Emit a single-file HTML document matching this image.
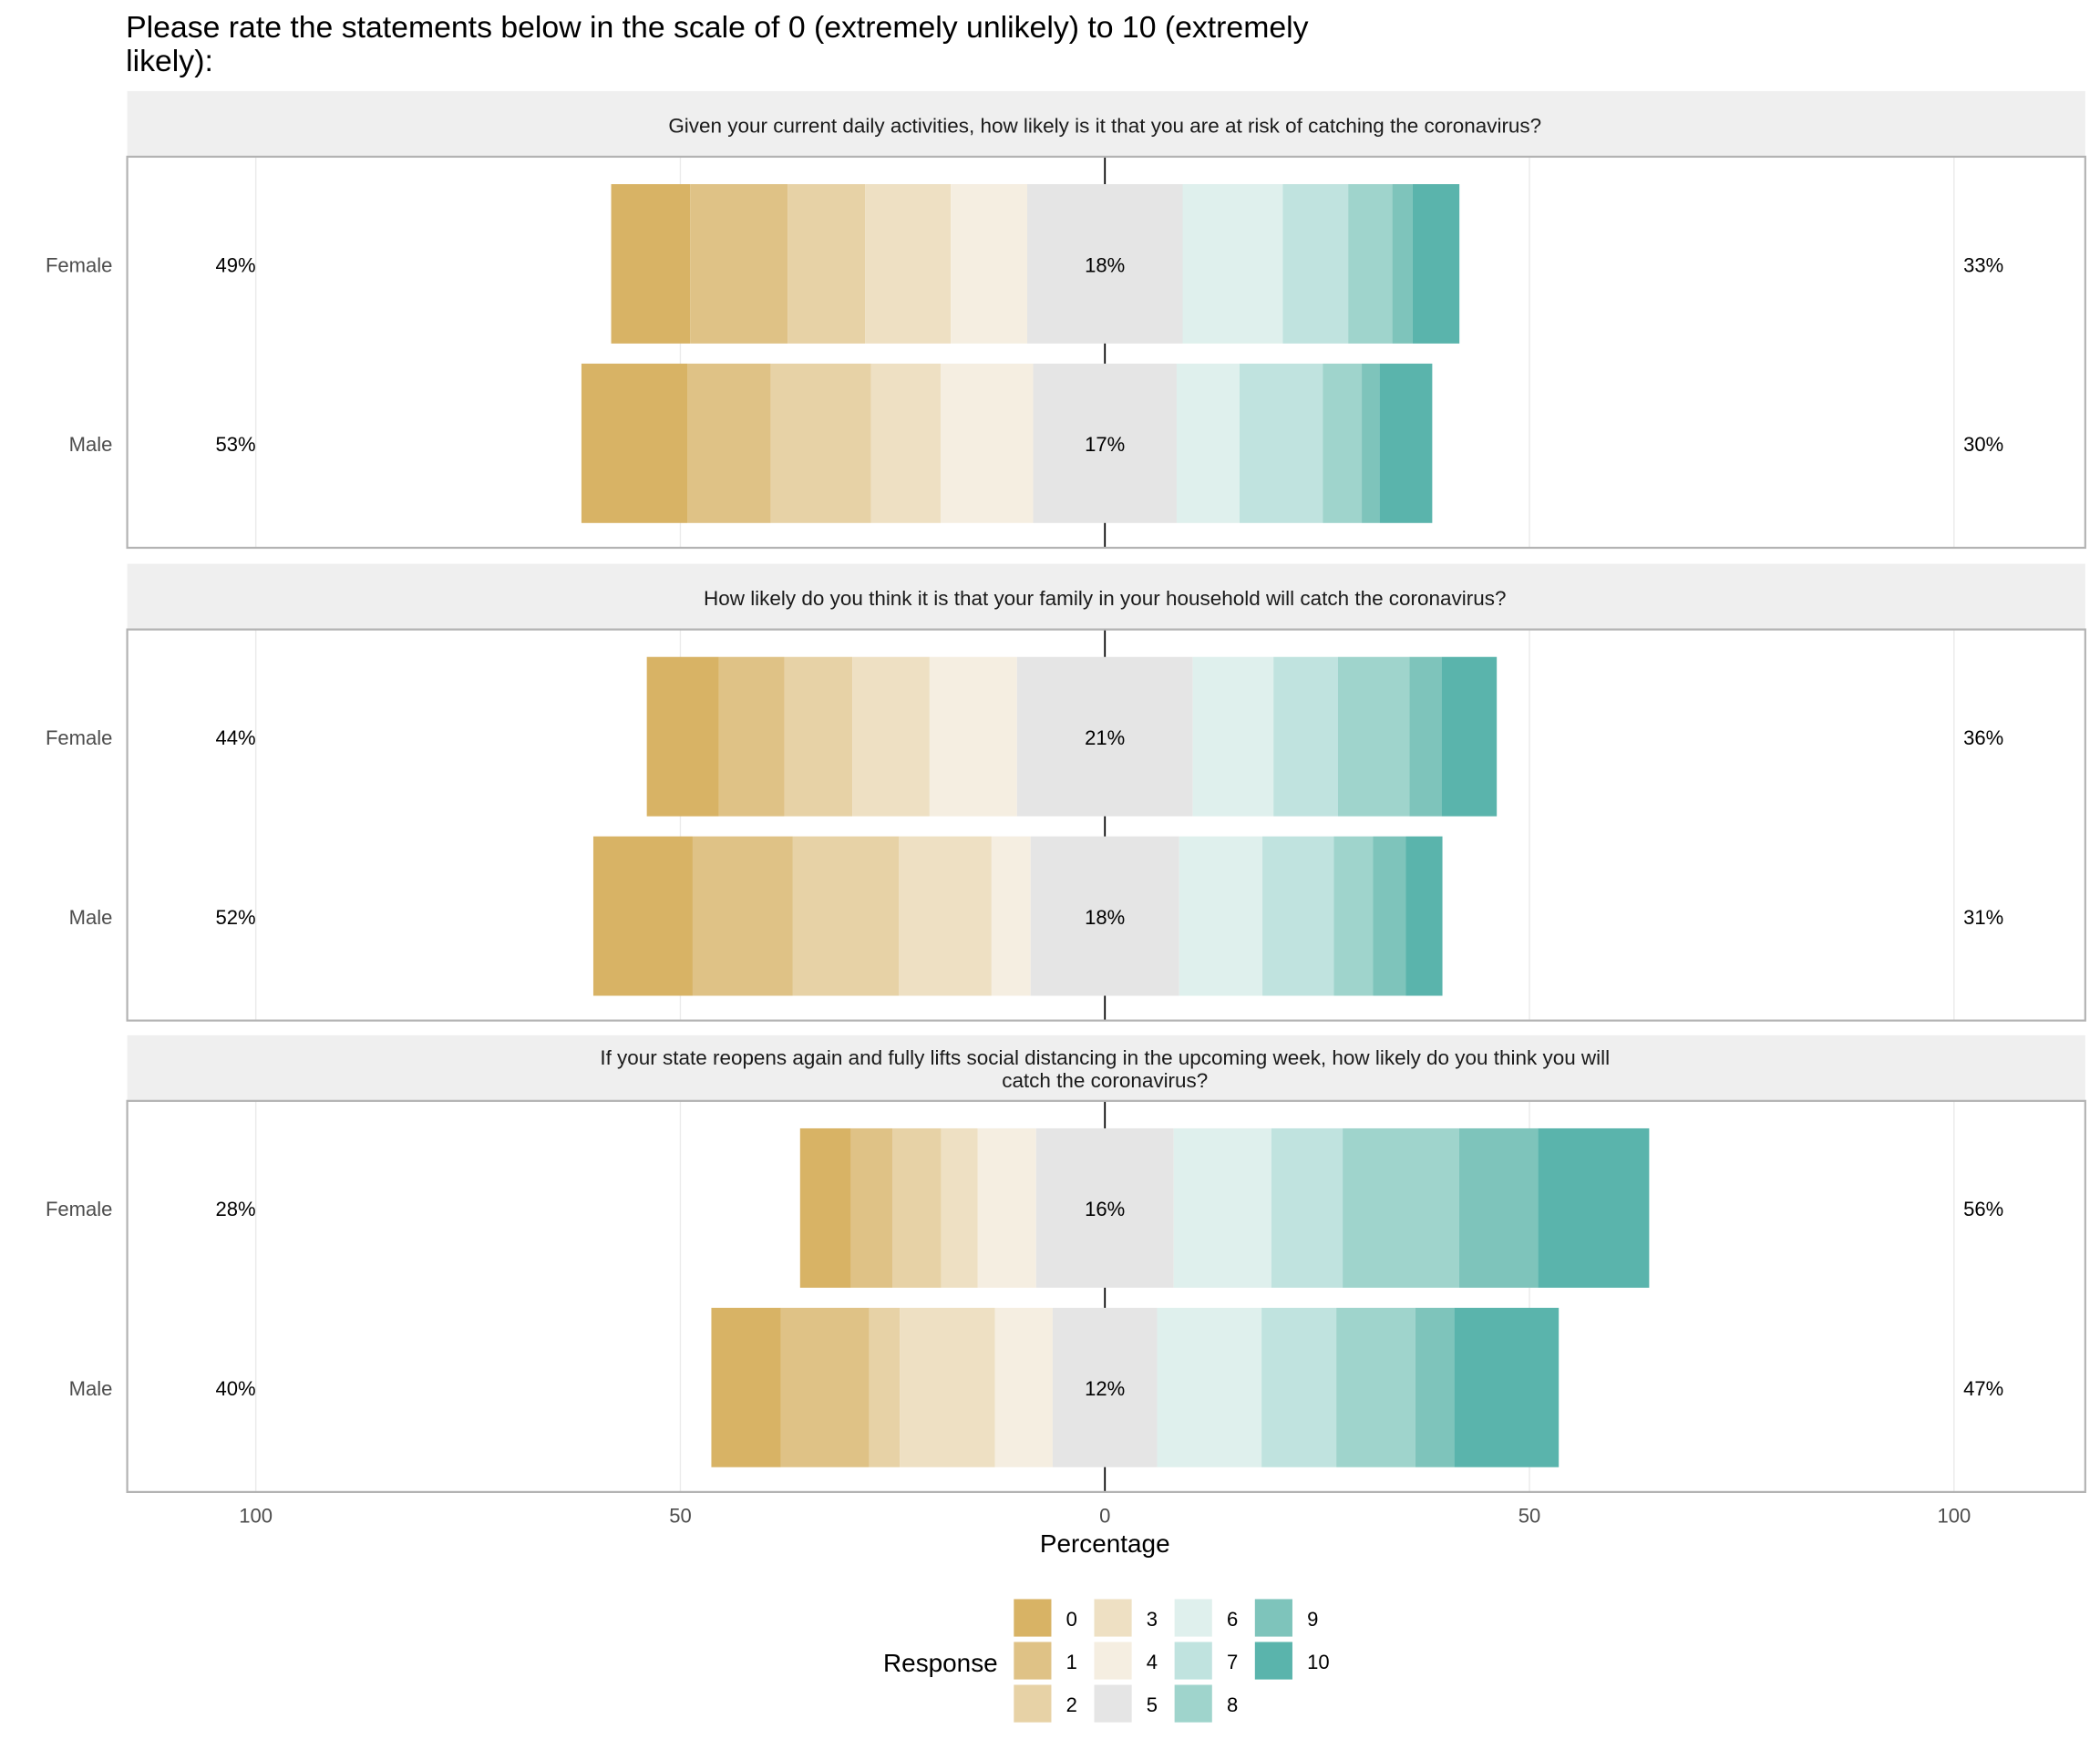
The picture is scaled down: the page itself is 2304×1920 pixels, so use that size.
<!DOCTYPE html>
<html><head><meta charset="utf-8"><style>html,body{margin:0;padding:0;background:#fff}svg{display:block}text{font-family:"Liberation Sans",Arial,sans-serif}</style></head>
<body>
<svg id="chart" xmlns="http://www.w3.org/2000/svg" width="2304" height="1920" viewBox="0 0 1568 1306.67">
<rect width="1568" height="1306.67" fill="#fff"/>
<text x="94" y="28" font-size="23" fill="#000">Please rate the statements below in the scale of 0 (extremely unlikely) to 10 (extremely</text>
<text x="94" y="53" font-size="23" fill="#000">likely):</text>
<g id="panels"></g>
<g id="xaxis"></g>
<text x="825" y="1159" font-size="19" text-anchor="middle">Percentage</text>
<g id="legend"></g>
</svg>
<script>
const questions = [
 ["Given your current daily activities, how likely is it that you are at risk of catching the coronavirus?"],
 ["How likely do you think it is that your family in your household will catch the coronavirus?"],
 ["If your state reopens again and fully lifts social distancing in the upcoming week, how likely do you think you will","catch the coronavirus?"]
];
const groups = ["Female","Male"];
const responses = ["0","1","2","3","4","5","6","7","8","9","10"];
const q1Female = [9.3,11.5,9.1,10.1,9.0,18.3,11.8,7.7,5.2,2.4,5.5];
const q1Male   = [12.5,9.8,11.8,8.2,10.9,16.9,7.4,9.8,4.6,2.1,6.2];
const q2Female = [8.5,7.7,8.0,9.1,10.3,20.7,9.5,7.6,8.4,3.8,6.5];
const q2Male   = [11.7,11.8,12.5,10.9,4.6,17.5,9.8,8.4,4.6,3.9,4.3];
const q3Female = [6.0,4.9,5.7,4.3,6.9,16.2,11.5,8.4,13.7,9.3,13.1];
const q3Male   = [8.2,10.4,3.6,11.2,6.8,12.3,12.3,8.8,9.3,4.6,12.3];
const lowLabels  = [["49%","53%"],["44%","52%"],["28%","40%"]];
const midLabels  = [["18%","17%"],["21%","18%"],["16%","12%"]];
const highLabels = [["33%","30%"],["36%","31%"],["56%","47%"]];
const xTicks = [-100,-50,0,50,100];
const xTickLabels = ["100","50","0","50","100"];
const colors = ["#d8b365","#dfc286","#e7d2a6","#eee0c3","#f5eee1","#e5e5e5","#dff0ed","#c0e3df","#9fd4cc","#7ec4bb","#5ab4ac"];
const data = [[q1Female,q1Male],[q2Female,q2Male],[q3Female,q3Male]];

const NS="http://www.w3.org/2000/svg";
const x = v => 825 + v*6.34;
function mk(tag, attrs, parent){const e=document.createElementNS(NS,tag);for(const k in attrs)e.setAttribute(k,attrs[k]);parent.appendChild(e);return e;}
const panelsG=document.getElementById('panels');
const stripTops=[68,421,773];
data.forEach((pd,p)=>{
  const st=stripTops[p], pt=st+49, pb=pt+292;
  const strip=mk('rect',{x:95,y:st,width:1462,height:49,fill:'#efefef'},panelsG);
  
  
  const ql=questions[p];
  ql.forEach((line,i)=>{
    const t=mk('text',{x:825,y:(ql.length===1?st+31:st+22+i*17),'font-size':15.3,'text-anchor':'middle',fill:'#1a1a1a'},panelsG);
    t.textContent=line;
    
    
  });
  const frame=mk('rect',{x:95,y:pt,width:1462,height:292,fill:'#fff'},panelsG);
  
  
  xTicks.forEach(v=>{if(v!==0){const g=mk('line',{x1:x(v),x2:x(v),y1:pt,y2:pb,stroke:'#ebebeb','stroke-width':1},panelsG);
    
    }});
  const zl=mk('line',{x1:825,x2:825,y1:pt,y2:pb,stroke:'#000','stroke-width':1.2},panelsG);
  
  
  pd.forEach((vals,g)=>{
    const cy=pt+80+g*134, h=119, y0=cy-h/2;
    let start=-(vals.slice(0,5).reduce((a,b)=>a+b,0)+vals[5]/2);
    vals.forEach((v,i)=>{
      const r=mk('rect',{x:x(start),y:y0,width:v*6.34,height:h,fill:colors[i]},panelsG);
      
      
      start+=v;
    });
    const lab=mk('text',{x:84,y:cy+6,'font-size':15,'text-anchor':'end',fill:'#4d4d4d'},panelsG);
    lab.textContent=groups[g];
    
    
    [[176,lowLabels[p][g]],[825,midLabels[p][g]],[1481,highLabels[p][g]]].forEach(([tx,s])=>{
      const t=mk('text',{x:tx,y:cy+6,'font-size':15,'text-anchor':'middle',fill:'#000'},panelsG);
      t.textContent=s;
      
      
    });
  });
  const border=mk('rect',{x:95,y:pt,width:1462,height:292,fill:'none',stroke:'#b3b3b3','stroke-width':1.5},panelsG);
  
  
});
const xa=document.getElementById('xaxis');
xTicks.forEach((v,i)=>{
  const t=mk('text',{x:x(v),y:1137,'font-size':15,'text-anchor':'middle',fill:'#4d4d4d'},xa);
  t.textContent=xTickLabels[i];
  
  
});
const lg=document.getElementById('legend');
const lt=mk('text',{x:745,y:1248,'font-size':19,'text-anchor':'end',fill:'#000'},lg);
lt.textContent='Response';


responses.forEach((r,i)=>{
  const col=Math.floor(i/3), row=i%3;
  const kx=757+col*60, ky=1194+row*32;
  const k=mk('rect',{x:kx,y:ky,width:28,height:28,fill:colors[i]},lg);
  
  
  const t=mk('text',{x:kx+39,y:ky+20,'font-size':15,fill:'#000'},lg);
  t.textContent=r;
  
  
});
</script>
</body></html>
